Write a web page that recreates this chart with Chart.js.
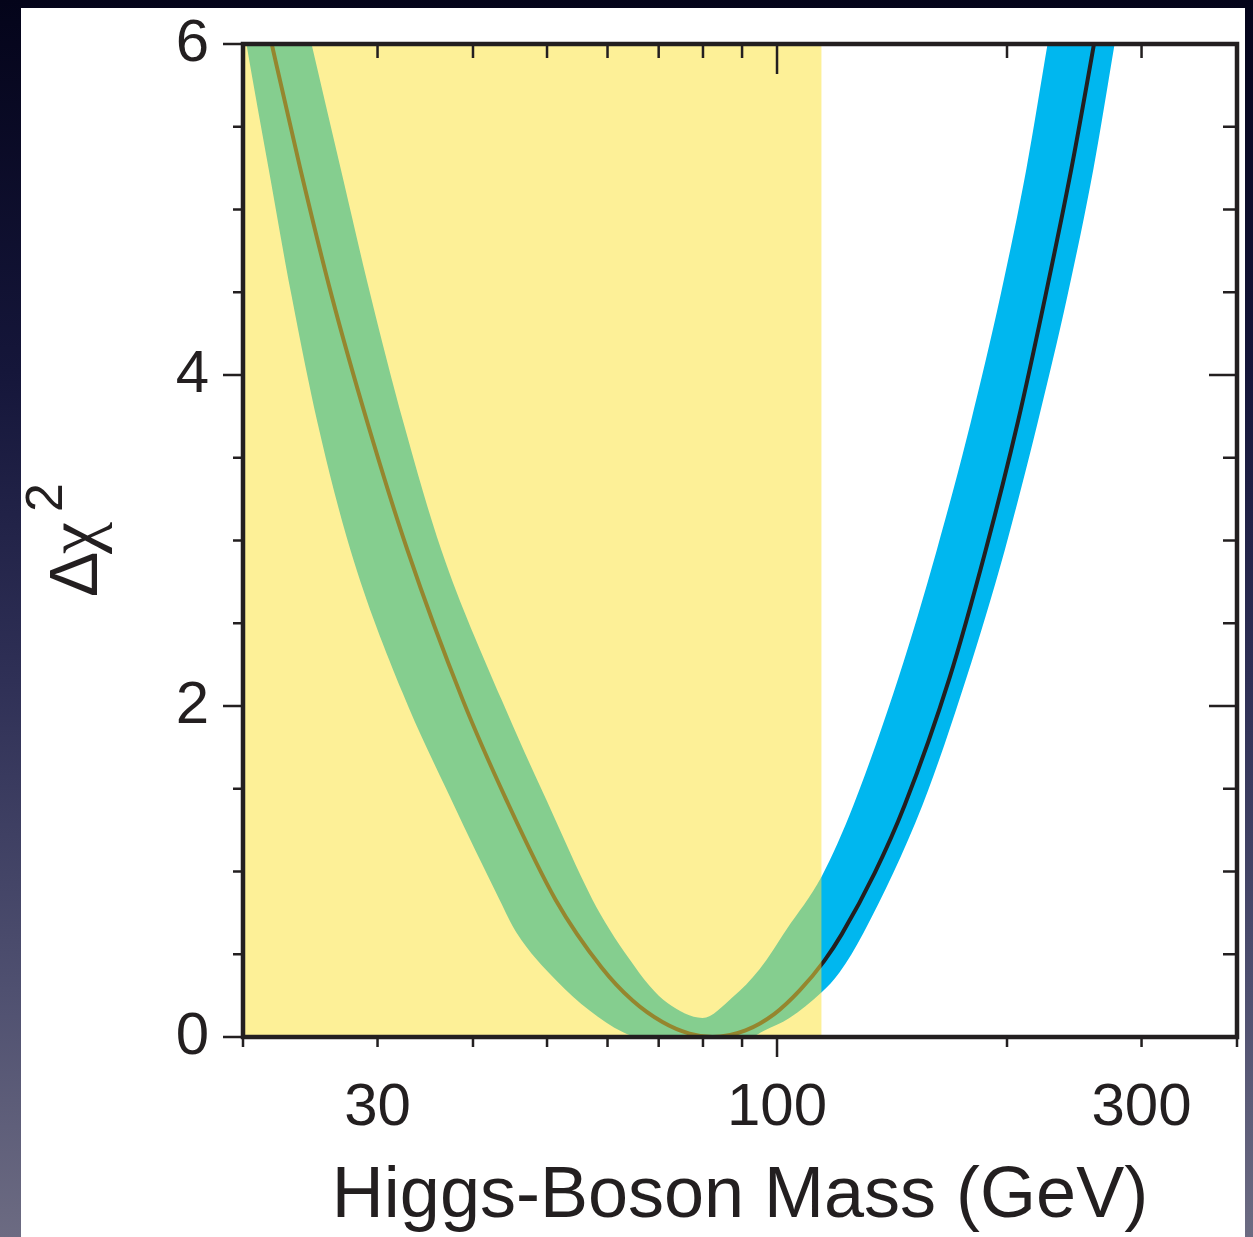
<!DOCTYPE html>
<html>
<head>
<meta charset="utf-8">
<script src="https://cdn.jsdelivr.net/npm/chart.js@4.4.0/dist/chart.umd.min.js"></script>
<style>
  html, body { margin: 0; padding: 0; }
  body {
    width: 1253px; height: 1237px; overflow: hidden;
    background: linear-gradient(to bottom, #04041a 0%, #15163a 30%, #2f3056 55%, #4f5070 80%, #6c6b82 100%);
  }
  #panel { position: absolute; left: 21px; top: 8px; width: 1224px; height: 1229px; background: #fff; }
</style>
</head>
<body>
<div id="panel"><canvas id="chart"></canvas></div>
<script>
// --- fit result (central curve) ---
const lineMass = [21.09, 21.76, 23.76, 26.12, 29.11, 32.84, 38.76, 44.26, 51.30, 58.93, 64.70, 70.80, 76.82, 82.35, 90.95, 99.25, 107.0, 115.3, 121.5, 134.2, 146.9, 168.2, 187.5, 206.5, 224.6, 242.9, 260.4, 266.8];
const lineChi2 = [6.30, 6.02, 5.25, 4.48, 3.71, 2.94, 2.04, 1.43, 0.83, 0.42, 0.22, 0.09, 0.02, 0.0, 0.04, 0.14, 0.28, 0.46, 0.62, 0.99, 1.40, 2.17, 2.94, 3.71, 4.48, 5.25, 6.02, 6.30];

// --- theory uncertainty band: upper edge ---
const bandHiMass = [20, 24.59, 26.84, 29.38, 32.45, 36.38, 43.59, 49.93, 57.34, 60.37, 64.12, 68.09, 71.89, 79.88, 87.45, 94.87, 102.9, 114.4, 125.9, 144.2, 161.8, 179.2, 196.1, 212.1, 226.0, 237.9, 300];
const bandHiChi2 = [7.8, 6.0, 5.25, 4.48, 3.71, 2.94, 2.04, 1.43, 0.83, 0.65, 0.47, 0.31, 0.205, 0.115, 0.24, 0.41, 0.65, 0.97, 1.40, 2.17, 2.94, 3.71, 4.48, 5.25, 6.0, 6.6, 12];

// --- theory uncertainty band: lower edge ---
const bandLoMass = [20, 20.21, 21.60, 23.15, 25.04, 27.66, 32.35, 37.50, 43.33, 45.61, 51.45, 56.84, 62.8, 66.0, 92.0, 96.3, 103.8, 114.4, 120.7, 129.8, 155.0, 177.0, 198.6, 219.3, 240.0, 259.6, 276.6, 285.9, 300];
const bandLoChi2 = [6.13, 6.0, 5.25, 4.48, 3.71, 2.94, 2.08, 1.43, 0.83, 0.63, 0.34, 0.16, 0.03, 0, 0, 0.04, 0.115, 0.27, 0.39, 0.63, 1.40, 2.17, 2.94, 3.71, 4.48, 5.25, 6.0, 6.4, 7.2];

// --- excluded region (direct search) ---
const excludedMass = [20, 114.4];
const excludedChi2 = [6, 6];

// --- axes ---
const xRange = [20, 400];
const yRange = [0, 6];
const xLabelTicks = [30, 100, 300];
const xMinorTicks = [20, 30, 40, 50, 60, 70, 80, 90, 200, 300, 400];
const xMajorTicks = [100];
const yLabelTicks = [0, 2, 4, 6];
const yMinorTicks = [0.5, 1, 1.5, 2.5, 3, 3.5, 4.5, 5, 5.5];
const yMajorTicks = [0, 2, 4, 6];

const ink = "#231f20";
const fontFamily = "'Liberation Sans', Arial, Helvetica, sans-serif";

function pts(xs, ys) {
  return xs.map((x, i) => ({ x, y: ys[i] }));
}

// frame, inner/outer tick marks and the y title
const frameTicks = {
  id: "frameTicks",
  afterDraw(chart) {
    const { ctx, chartArea: a, scales: { x, y } } = chart;
    ctx.save();
    ctx.strokeStyle = ink;
    ctx.lineWidth = 2.5;
    ctx.beginPath();
    xMinorTicks.forEach(v => {
      const px = x.getPixelForValue(v);
      ctx.moveTo(px, a.bottom); ctx.lineTo(px, a.bottom + 10);
      ctx.moveTo(px, a.top); ctx.lineTo(px, a.top + 14);
    });
    xMajorTicks.forEach(v => {
      const px = x.getPixelForValue(v);
      ctx.moveTo(px, a.bottom); ctx.lineTo(px, a.bottom + 20);
      ctx.moveTo(px, a.top); ctx.lineTo(px, a.top + 30);
    });
    yMinorTicks.forEach(v => {
      const py = y.getPixelForValue(v);
      ctx.moveTo(a.left, py); ctx.lineTo(a.left - 10, py);
      ctx.moveTo(a.right, py); ctx.lineTo(a.right - 14, py);
    });
    yMajorTicks.forEach(v => {
      const py = y.getPixelForValue(v);
      ctx.moveTo(a.left, py); ctx.lineTo(a.left - 20, py);
      ctx.moveTo(a.right, py); ctx.lineTo(a.right - 28, py);
    });
    ctx.stroke();

    ctx.lineWidth = 4.5;
    ctx.strokeRect(a.left, a.top, a.right - a.left, a.bottom - a.top);

    // y title: Δχ²
    ctx.fillStyle = ink;
    ctx.translate(76, 589);
    ctx.rotate(-Math.PI / 2);
    ctx.textBaseline = "alphabetic";
    ctx.textAlign = "left";
    ctx.font = `68px ${fontFamily}`;
    ctx.fillText("Δ", 0, 0);
    ctx.font = `72px 'Liberation Serif', 'DejaVu Serif', serif`;
    ctx.fillText("χ", 43, 0);
    ctx.font = `52px ${fontFamily}`;
    ctx.fillText("2", 85, -35);
    ctx.restore();
  }
};

Chart.defaults.font.family = fontFamily;
Chart.defaults.color = ink;

new Chart(document.getElementById("chart"), {
  type: "line",
  data: {
    datasets: [
      {
        label: "excluded",
        data: pts(excludedMass, excludedChi2),
        borderColor: "transparent",
        backgroundColor: "rgba(251, 226, 58, 0.53)",
        fill: "start",
        pointRadius: 0,
        order: 0
      },
      {
        label: "fit",
        data: pts(lineMass, lineChi2),
        borderColor: ink,
        borderWidth: 4,
        pointRadius: 0,
        cubicInterpolationMode: "monotone",
        fill: false,
        order: 1
      },
      {
        label: "band upper",
        data: pts(bandHiMass, bandHiChi2),
        borderColor: "transparent",
        backgroundColor: "#00b7ef",
        pointRadius: 0,
        cubicInterpolationMode: "monotone",
        fill: "+1",
        order: 2
      },
      {
        label: "band lower",
        data: pts(bandLoMass, bandLoChi2),
        borderColor: "transparent",
        pointRadius: 0,
        cubicInterpolationMode: "monotone",
        fill: false,
        order: 3
      }
    ]
  },
  options: {
    responsive: true,
    maintainAspectRatio: false,
    animation: false,
    layout: { padding: { left: 0, right: 8, top: 36, bottom: 0 } },
    plugins: { legend: { display: false }, tooltip: { enabled: false } },
    scales: {
      x: {
        type: "logarithmic",
        position: "bottom",
        min: xRange[0],
        max: xRange[1],
        grid: { display: false, drawTicks: false },
        border: { display: false },
        afterBuildTicks: s => { s.ticks = xLabelTicks.map(v => ({ value: v })); },
        afterFit: s => { s.height = 200; s.paddingLeft = 0; s.paddingRight = 0; },
        ticks: {
          autoSkip: false,
          maxRotation: 0,
          padding: 41,
          font: { size: 60, lineHeight: 1 },
          color: ink,
          callback: v => String(v)
        },
        title: {
          display: true,
          text: "Higgs-Boson Mass (GeV)",
          color: ink,
          font: { size: 72, lineHeight: 1 },
          padding: { top: 0, bottom: 4 }
        }
      },
      y: {
        type: "linear",
        position: "left",
        min: yRange[0],
        max: yRange[1],
        grid: { display: false, drawTicks: false },
        border: { display: false },
        afterBuildTicks: s => { s.ticks = yLabelTicks.map(v => ({ value: v })); },
        afterFit: s => { s.width = 222; s.paddingTop = 0; s.paddingBottom = 0; },
        ticks: {
          padding: 34,
          font: { size: 60, lineHeight: 1 },
          color: ink,
          callback: v => String(v)
        }
      }
    }
  },
  plugins: [frameTicks]
});
</script>
</body>
</html>
